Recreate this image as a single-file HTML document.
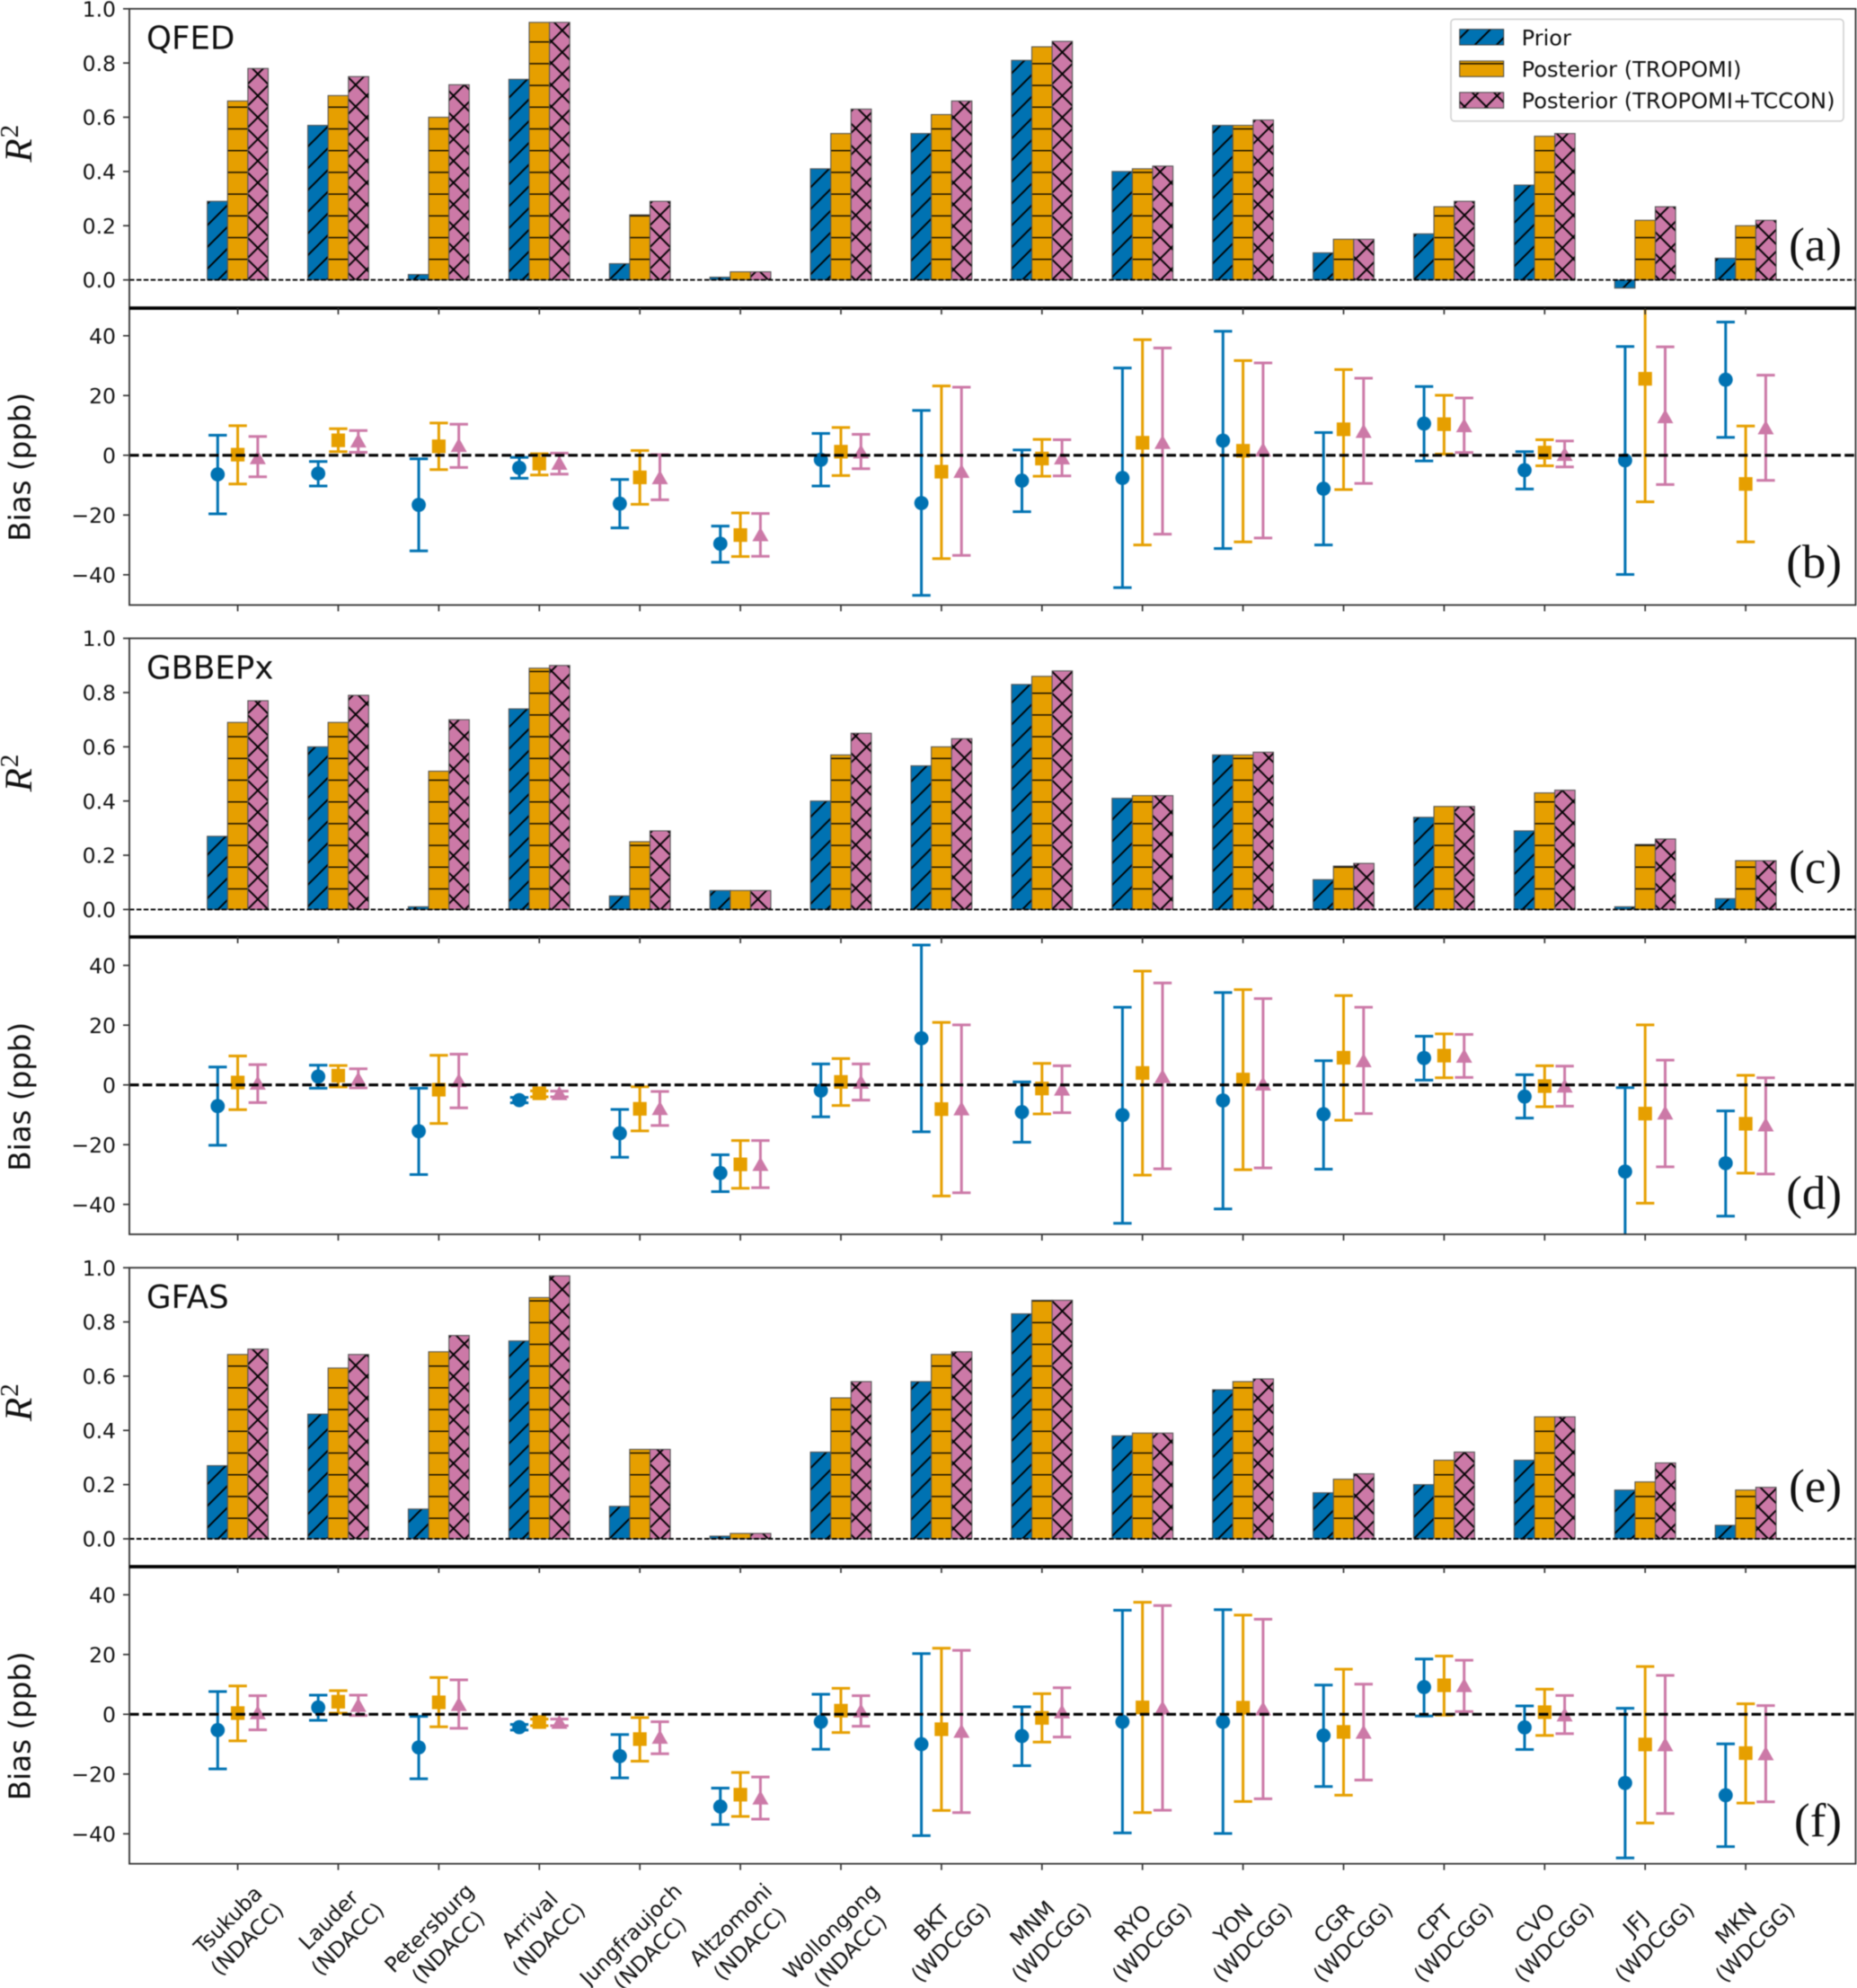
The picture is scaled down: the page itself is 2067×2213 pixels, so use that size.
<!DOCTYPE html>
<html lang="en">
<head>
<meta charset="utf-8">
<title>R2 and bias at evaluation stations</title>
<style>
html,body{margin:0;padding:0;background:#fff;}
svg{display:block;filter:blur(0.4px);}
text{font-family:"DejaVu Sans","Liberation Sans",sans-serif;fill:#111;}
</style>
</head>
<body>
<svg id="chart" xmlns="http://www.w3.org/2000/svg" width="2067" height="2213" viewBox="0 0 2067 2213"></svg>
<script>
const stationNames = ["Tsukuba","Lauder","Petersburg","Arrival","Jungfraujoch","Altzomoni","Wollongong","BKT","MNM","RYO","YON","CGR","CPT","CVO","JFJ","MKN"];
const stationNetworks = ["(NDACC)","(NDACC)","(NDACC)","(NDACC)","(NDACC)","(NDACC)","(NDACC)","(WDCGG)","(WDCGG)","(WDCGG)","(WDCGG)","(WDCGG)","(WDCGG)","(WDCGG)","(WDCGG)","(WDCGG)"];
const r2TickValues = [0,0.2,0.4,0.6,0.8,1];
const r2TickLabels = ["0.0","0.2","0.4","0.6","0.8","1.0"];
const biasTickValues = [-40,-20,0,20,40];
const biasTickLabels = ["\u221240","\u221220","0","20","40"];
const seriesNames = ["Prior","Posterior (TROPOMI)","Posterior (TROPOMI+TCCON)"];

const qfedR2Prior = [0.29,0.57,0.02,0.74,0.06,0.01,0.41,0.54,0.81,0.40,0.57,0.10,0.17,0.35,-0.03,0.08];
const qfedR2Tropomi = [0.66,0.68,0.60,0.95,0.24,0.03,0.54,0.61,0.86,0.41,0.57,0.15,0.27,0.53,0.22,0.20];
const qfedR2Combined = [0.78,0.75,0.72,0.95,0.29,0.03,0.63,0.66,0.88,0.42,0.59,0.15,0.29,0.54,0.27,0.22];
const gbbepxR2Prior = [0.27,0.60,0.01,0.74,0.05,0.07,0.40,0.53,0.83,0.41,0.57,0.11,0.34,0.29,0.01,0.04];
const gbbepxR2Tropomi = [0.69,0.69,0.51,0.89,0.25,0.07,0.57,0.60,0.86,0.42,0.57,0.16,0.38,0.43,0.24,0.18];
const gbbepxR2Combined = [0.77,0.79,0.70,0.90,0.29,0.07,0.65,0.63,0.88,0.42,0.58,0.17,0.38,0.44,0.26,0.18];
const gfasR2Prior = [0.27,0.46,0.11,0.73,0.12,0.01,0.32,0.58,0.83,0.38,0.55,0.17,0.20,0.29,0.18,0.05];
const gfasR2Tropomi = [0.68,0.63,0.69,0.89,0.33,0.02,0.52,0.68,0.88,0.39,0.58,0.22,0.29,0.45,0.21,0.18];
const gfasR2Combined = [0.70,0.68,0.75,0.97,0.33,0.02,0.58,0.69,0.88,0.39,0.59,0.24,0.32,0.45,0.28,0.19];

const qfedBiasPrior = [-6.4,-6.1,-16.6,-4.2,-16.2,-29.6,-1.5,-16,-8.5,-7.6,4.9,-11.2,10.6,-5,-1.7,25.3];
const qfedBiasPriorLow = [-19.6,-10.3,-32,-7.7,-24.3,-35.8,-10.3,-46.9,-18.9,-44.3,-31.2,-30,-1.9,-11.3,-39.9,6];
const qfedBiasPriorHigh = [6.7,-2.1,-1.2,-0.7,-8.1,-23.7,7.3,15,1.8,29.2,41.5,7.6,23,1.2,36.4,44.6];
const qfedBiasTropomi = [0.2,5,3,-2.8,-7.4,-26.7,1.2,-5.5,-1.1,4.2,1.5,8.7,10.4,0.9,25.6,-9.6];
const qfedBiasTropomiLow = [-9.6,1.2,-4.8,-6.6,-16.4,-33.9,-6.8,-34.6,-7,-30,-29,-11.5,0.4,-3.5,-15.6,-29];
const qfedBiasTropomiHigh = [9.9,8.9,10.8,0.5,1.6,-19.3,9.3,23.2,5.3,38.7,31.7,28.7,20.1,5.2,66,9.8];
const qfedBiasCombined = [-0.7,4.9,3.4,-2.6,-7.4,-26.5,1.2,-5.3,-0.8,4.4,1.9,8.1,10,0.4,13,9.3];
const qfedBiasCombinedLow = [-7.2,1,-4.1,-6.3,-14.9,-33.8,-4.5,-33.5,-6.9,-26.4,-27.7,-9.4,0.9,-3.9,-9.8,-8.4];
const qfedBiasCombinedHigh = [6.3,8.3,10.4,0.7,0.2,-19.5,7,22.8,5.2,35.9,30.9,25.8,19.2,4.8,36.3,26.8];

const gbbepxBiasPrior = [-7.1,2.8,-15.5,-5.1,-16.2,-29.5,-1.9,15.6,-9.1,-10.1,-5.2,-9.8,9,-3.9,-29,-26.2];
const gbbepxBiasPriorLow = [-20.2,-1.1,-30,-6,-24.2,-35.7,-10.7,-15.7,-19.2,-46.3,-41.5,-28.2,1.6,-11.1,-57.6,-43.9];
const gbbepxBiasPriorHigh = [6,6.6,-1.1,-4.2,-8.2,-23.4,7,46.8,1,26,30.9,8.1,16.3,3.4,-0.9,-8.7];
const gbbepxBiasTropomi = [0.8,3.1,-1.6,-2.8,-8,-26.6,1,-8.1,-1.2,4,1.8,9.1,9.8,-0.4,-9.6,-13];
const gbbepxBiasTropomiLow = [-8.3,-0.7,-12.9,-4,-15.4,-34.6,-6.9,-37.2,-9.7,-30.2,-28.4,-11.8,2.4,-7.3,-39.6,-29.5];
const gbbepxBiasTropomiHigh = [9.7,6.5,9.9,-2,-0.6,-18.6,8.8,20.9,7.2,38.1,31.9,29.9,17.1,6.4,20.1,3.2];
const gbbepxBiasCombined = [0.7,2,1.5,-2.8,-7.8,-26.5,1,-7.9,-1.3,2.9,0.4,8.2,9.7,-0.3,-9.3,-13.3];
const gbbepxBiasCombinedLow = [-5.9,-1,-7.7,-4,-13.6,-34.4,-5.1,-36.1,-9.3,-28.1,-27.8,-9.6,2.5,-7.1,-27.4,-29.8];
const gbbepxBiasCombinedHigh = [6.8,5.4,10.3,-2.1,-2.2,-18.6,7,20.1,6.4,34.1,28.9,26,16.9,6.3,8.3,2.4];

const gfasBiasPrior = [-5.3,2.3,-11.1,-4.3,-14,-30.9,-2.5,-10,-7.3,-2.5,-2.5,-7.1,9.1,-4.4,-23,-27.1];
const gfasBiasPriorLow = [-18.3,-2,-21.6,-5.3,-21.3,-36.9,-11.7,-40.6,-17.2,-39.7,-39.9,-24.2,-0.6,-11.8,-48.1,-44.3];
const gfasBiasPriorHigh = [7.6,6.4,-0.7,-3.4,-6.8,-24.7,6.7,20.3,2.5,34.8,35,9.8,18.5,2.8,2,-9.9];
const gfasBiasTropomi = [0.4,4.2,4,-2.6,-8.3,-26.9,1.2,-5,-1.2,2.3,2.2,-5.9,9.7,0.7,-10.1,-13];
const gfasBiasTropomiLow = [-8.9,0.4,-4.2,-3.8,-15.7,-34.2,-6.1,-32.2,-9.3,-32.9,-29.2,-27.1,-0.3,-7.1,-36.4,-29.7];
const gfasBiasTropomiHigh = [9.5,7.9,12.3,-1.6,-1.1,-19.5,8.7,22.1,6.9,37.5,33.2,15.1,19.5,8.4,16,3.5];
const gfasBiasCombined = [0.6,3.1,3.4,-2.6,-7.6,-27.9,1.2,-5.6,0.9,2.2,1.9,-5.9,9.7,-0.1,-10.1,-13.1];
const gfasBiasCombinedLow = [-5.2,-0.4,-4.7,-3.8,-13.2,-35.1,-4,-32.9,-7.6,-32.1,-28.3,-22,0.9,-6.5,-33.2,-29.3];
const gfasBiasCombinedHigh = [6.2,6.4,11.5,-1.6,-2.5,-21,6.2,21.4,8.9,36.4,31.8,10.1,18.1,6.3,13,2.9];

const SVGNS = "http://www.w3.org/2000/svg";
const svg = document.getElementById("chart");
const COLORS = ["#0072B2","#E69F00","#CC79A7"];
const LEFT = 144, RIGHT = 2065.5;
const FRAME = "#333333";
const panels = [
  {id:"qfed",name:"QFED",r2Letter:"(a)",biasLetter:"(b)",top:9.8,zero:311.6,split:343,biasZero:506.8,bottom:673.5,r2Base:290,biasBase:643,
   r2:[qfedR2Prior,qfedR2Tropomi,qfedR2Combined],
   bias:[[qfedBiasPrior,qfedBiasPriorLow,qfedBiasPriorHigh],[qfedBiasTropomi,qfedBiasTropomiLow,qfedBiasTropomiHigh],[qfedBiasCombined,qfedBiasCombinedLow,qfedBiasCombinedHigh]]},
  {id:"gbbepx",name:"GBBEPx",r2Letter:"(c)",biasLetter:"(d)",top:710.6,zero:1012.4,split:1043,biasZero:1207.7,bottom:1374,r2Base:983,biasBase:1345.7,
   r2:[gbbepxR2Prior,gbbepxR2Tropomi,gbbepxR2Combined],
   bias:[[gbbepxBiasPrior,gbbepxBiasPriorLow,gbbepxBiasPriorHigh],[gbbepxBiasTropomi,gbbepxBiasTropomiLow,gbbepxBiasTropomiHigh],[gbbepxBiasCombined,gbbepxBiasCombinedLow,gbbepxBiasCombinedHigh]]},
  {id:"gfas",name:"GFAS",r2Letter:"(e)",biasLetter:"(f)",top:1411.2,zero:1713,split:1744,biasZero:1908.3,bottom:2074.7,r2Base:1672,biasBase:2044,
   r2:[gfasR2Prior,gfasR2Tropomi,gfasR2Combined],
   bias:[[gfasBiasPrior,gfasBiasPriorLow,gfasBiasPriorHigh],[gfasBiasTropomi,gfasBiasTropomiLow,gfasBiasTropomiHigh],[gfasBiasCombined,gfasBiasCombinedLow,gfasBiasCombinedHigh]]}
];

function xTick(i){return 264.6 + 111.9*i;}
function yR2(p,v){return p.zero - (p.zero-p.top)*v;}
function yBias(p,v){return p.biasZero - 3.326*v;}

function mk(tag,attrs,parent){
  const e = document.createElementNS(SVGNS,tag);
  for(const k in attrs){e.setAttribute(k,attrs[k]);}
  parent.appendChild(e);
  return e;
}

const defs = mk("defs",{},svg);



function hatchPatterns(key,anchorY){
  const size = 24.2;
  const pb = mk("pattern",{id:"hb-"+key,width:size,height:size,patternUnits:"userSpaceOnUse",patternTransform:"translate(0,"+anchorY+")"},defs);
  mk("rect",{width:size,height:size,fill:COLORS[0]},pb);
  mk("path",{d:"M-2 2L2 -2M0 "+size+"L"+size+" 0M"+(size-2)+" "+(size+2)+"L"+(size+2)+" "+(size-2),stroke:"#000","stroke-width":1.9},pb);
  const po = mk("pattern",{id:"ho-"+key,width:size,height:size,patternUnits:"userSpaceOnUse",patternTransform:"translate(0,"+anchorY+")"},defs);
  mk("rect",{width:size,height:size,fill:COLORS[1]},po);
  mk("path",{d:"M0 0H"+size,stroke:"#000","stroke-width":2.8},po);
  const pp = mk("pattern",{id:"hp-"+key,width:size,height:size,patternUnits:"userSpaceOnUse",patternTransform:"translate(20.8,"+(anchorY+12.1)+")"},defs);
  mk("rect",{width:size,height:size,fill:COLORS[2]},pp);
  mk("path",{d:"M-2 2L2 -2M0 "+size+"L"+size+" 0M"+(size-2)+" "+(size+2)+"L"+(size+2)+" "+(size-2)+"M-2 "+(size-2)+"L2 "+(size+2)+"M0 0L"+size+" "+size+"M"+(size-2)+" -2L"+(size+2)+" 2",stroke:"#000","stroke-width":1.9},pp);
}
const hatchPrefix = ["hb","ho","hp"];
const seriesKeys = ["prior","tropomi","combined"];

panels.forEach(function(p){
  hatchPatterns(p.id,p.zero-23.6);

  const clip = mk("clipPath",{id:"clip-"+p.id},defs);
  mk("rect",{x:LEFT,y:p.split,width:RIGHT-LEFT,height:p.bottom-p.split},clip);

  const group = mk("g",{},svg);
  
  

  /* R2 bars */
  const barLayer = mk("g",{},group);
  
  
  p.r2.forEach(function(series,k){
    series.forEach(function(v,i){
      const y1 = yR2(p,v), y2 = yR2(p,0);
      const bar = mk("rect",{x:xTick(i)-33.9+k*22.6,y:Math.min(y1,y2),width:22.6,height:Math.abs(y2-y1),fill:"url(#"+hatchPrefix[k]+"-"+p.id+")",stroke:"#555","stroke-width":1.1},barLayer);
      
      
    });
  });

  const r2Zero = mk("line",{x1:LEFT,x2:RIGHT,y1:p.zero,y2:p.zero,stroke:"#000","stroke-width":1.9,"stroke-dasharray":"5.5 2.4"},group);
  
  

  /* Bias error bars */
  const biasLayer = mk("g",{"clip-path":"url(#clip-"+p.id+")"},group);
  
  
  p.bias.forEach(function(triple,k){
    const means = triple[0], lows = triple[1], highs = triple[2];
    means.forEach(function(v,i){
      const cx = xTick(i)+(k-1)*22.3;
      const cy = yBias(p,v), yl = yBias(p,lows[i]), yh = yBias(p,highs[i]);
      const stem = mk("line",{x1:cx,x2:cx,y1:yl,y2:yh,stroke:COLORS[k],"stroke-width":3},biasLayer);
      
      
      const capLow = mk("line",{x1:cx-10.2,x2:cx+10.2,y1:yl,y2:yl,stroke:COLORS[k],"stroke-width":3},biasLayer);
      
      
      const capHigh = mk("line",{x1:cx-10.2,x2:cx+10.2,y1:yh,y2:yh,stroke:COLORS[k],"stroke-width":3},biasLayer);
      
      
      let marker;
      if(k===0){
        marker = mk("circle",{cx:cx,cy:cy,r:7.9,fill:COLORS[k]},biasLayer);
      }else if(k===1){
        marker = mk("rect",{x:cx-7.6,y:cy-7.6,width:15.2,height:15.2,fill:COLORS[k]},biasLayer);
      }else{
        marker = mk("polygon",{points:(cx)+","+(cy-8.2)+" "+(cx+9)+","+(cy+7.6)+" "+(cx-9)+","+(cy+7.6),fill:COLORS[k]},biasLayer);
      }
      
      
    });
  });

  const biasZeroLine = mk("line",{x1:LEFT,x2:RIGHT,y1:p.biasZero,y2:p.biasZero,stroke:"#000","stroke-width":3.1,"stroke-dasharray":"10.6 4.2"},group);
  
  

  /* Frames */
  const r2Frame = mk("rect",{x:LEFT,y:p.top,width:RIGHT-LEFT,height:p.split-p.top,fill:"none",stroke:FRAME,"stroke-width":1.8},group);
  
  
  const biasFrame = mk("rect",{x:LEFT,y:p.split,width:RIGHT-LEFT,height:p.bottom-p.split,fill:"none",stroke:FRAME,"stroke-width":1.8},group);
  
  
  const divider = mk("line",{x1:LEFT,x2:RIGHT,y1:p.split,y2:p.split,stroke:"#000","stroke-width":3.8},group);
  
  

  /* X ticks */
  stationNames.forEach(function(name,i){
    const t1 = mk("line",{x1:xTick(i),x2:xTick(i),y1:p.split,y2:p.split+7,stroke:FRAME,"stroke-width":1.7},group);
    
    
    const t2 = mk("line",{x1:xTick(i),x2:xTick(i),y1:p.bottom,y2:p.bottom+7,stroke:FRAME,"stroke-width":1.7},group);
    
    
  });

  /* Y ticks */
  r2TickValues.forEach(function(v,i){
    const y = yR2(p,v);
    const t = mk("line",{x1:LEFT-7,x2:LEFT,y1:y,y2:y,stroke:FRAME,"stroke-width":1.7},group);
    
    
    const lab = mk("text",{x:LEFT-15,y:y+8.6,"text-anchor":"end","font-size":23.5},group);
    lab.textContent = r2TickLabels[i];
    
    
  });
  biasTickValues.forEach(function(v,i){
    const y = yBias(p,v);
    const t = mk("line",{x1:LEFT-7,x2:LEFT,y1:y,y2:y,stroke:FRAME,"stroke-width":1.7},group);
    
    
    const lab = mk("text",{x:LEFT-15,y:y+8.6,"text-anchor":"end","font-size":23.5},group);
    lab.textContent = biasTickLabels[i];
    
    
  });

  /* Axis titles */
  const r2Title = mk("text",{transform:"translate(34.8,"+(p.zero-131)+") rotate(-90)","font-size":43,"text-anchor":"start",style:"font-family:'Liberation Serif',serif"},group);
  
  
  const r2R = mk("tspan",{"font-style":"italic"},r2Title);
  r2R.textContent = "R";
  const r2Sup = mk("tspan",{"font-size":29,dy:-15,dx:1},r2Title);
  r2Sup.textContent = "2";

  const biasTitle = mk("text",{transform:"translate(33.5,"+(p.biasZero+13)+") rotate(-90)","font-size":32.5,"text-anchor":"middle"},group);
  biasTitle.textContent = "Bias (ppb)";
  
  

  /* Panel name & letters */
  const title = mk("text",{x:163,y:p.zero-257,"font-size":35.6},group);
  title.textContent = p.name;
  
  
  const l1 = mk("text",{x:2050,y:p.r2Base,"text-anchor":"end","font-size":53,style:"font-family:'Liberation Serif',serif"},group);
  l1.textContent = p.r2Letter;
  
  
  const l2 = mk("text",{x:2050,y:p.biasBase,"text-anchor":"end","font-size":53,style:"font-family:'Liberation Serif',serif"},group);
  l2.textContent = p.biasLetter;
  
  
});

/* Legend */
const legend = mk("g",{},svg);


const legendBox = mk("rect",{x:1615,y:21.4,width:437,height:113.4,rx:4,fill:"#fff","fill-opacity":0.85,stroke:"#d0d0d0","stroke-width":1.6},legend);


const legendTops = [32.6,67.9,102.9];
seriesNames.forEach(function(name,k){
  const swatch = mk("rect",{x:1624.7,y:legendTops[k],width:49,height:17.4,fill:"url(#"+hatchPrefix[k]+"-qfed)",stroke:"#444","stroke-width":1},legend);
  
  
  const label = mk("text",{x:1693.6,y:legendTops[k]+17.7,"font-size":24.1},legend);
  label.textContent = name;
  
  
});

/* Station labels under last panel */
const labelLayer = mk("g",{},svg);


stationNames.forEach(function(name,i){
  const t = mk("text",{"text-anchor":"middle","font-size":23.7,transform:"rotate(-45)"},labelLayer);
  const a = mk("tspan",{x:0,dy:0},t);
  a.textContent = name;
  const b = mk("tspan",{x:0,dy:30},t);
  b.textContent = stationNetworks[i];
  
  
  const r = t.getBoundingClientRect();
  const dx = xTick(i)-(r.left+r.right)/2;
  const dy = 2091-r.top;
  t.setAttribute("transform","translate("+dx+","+dy+") rotate(-45)");
});
</script>
</body>
</html>
